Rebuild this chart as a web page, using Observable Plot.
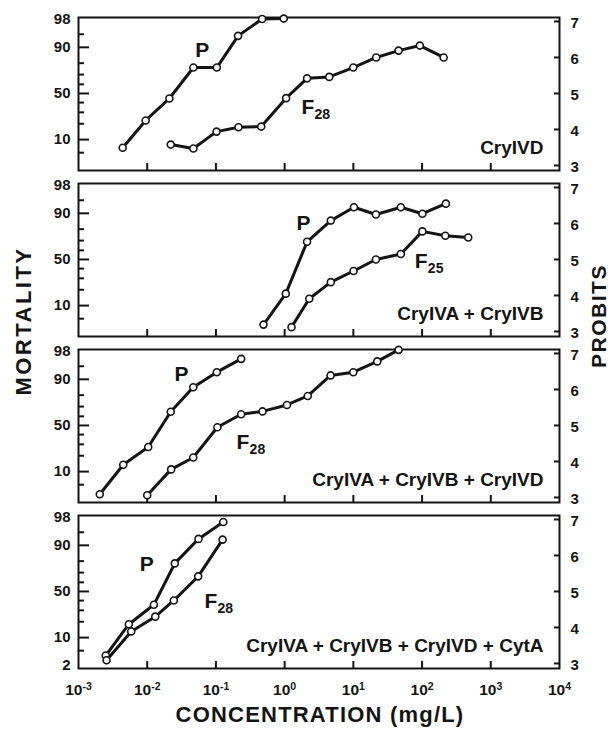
<!DOCTYPE html>
<html><head><meta charset="utf-8">
<script src="https://cdn.jsdelivr.net/npm/d3@7"></script>
<script src="https://cdn.jsdelivr.net/npm/@observablehq/plot@0.6"></script>
<style>
body{margin:0;background:#fff;}
#chart{position:relative;width:612px;height:730px;}
</style></head><body><div id="chart"></div>
<script>
// ---- data (concentration mg/L, response in probits) ----
const panelNames = ["CryIVD", "CryIVA + CryIVB", "CryIVA + CryIVB + CryIVD", "CryIVA + CryIVB + CryIVD + CytA"];

const p1P_conc = [0.0044, 0.0095, 0.021, 0.047, 0.103, 0.21, 0.47, 0.97];
const p1P_prob = [3.49, 4.25, 4.86, 5.72, 5.72, 6.60, 7.07, 7.08];
const p1F_conc = [0.022, 0.047, 0.102, 0.213, 0.456, 1.05, 2.12, 4.46, 9.98, 21.5, 45.5, 92.9, 206];
const p1F_prob = [3.58, 3.47, 3.94, 4.06, 4.08, 4.87, 5.42, 5.46, 5.72, 6.00, 6.19, 6.33, 6.00];

const p2P_conc = [0.493, 1.04, 2.12, 4.70, 10.2, 21.3, 49.1, 101, 222];
const p2P_prob = [3.19, 4.05, 5.49, 6.08, 6.45, 6.25, 6.45, 6.27, 6.55];
const p2F_conc = [1.26, 2.28, 4.70, 10.07, 21.3, 49.1, 101, 218, 470];
const p2F_prob = [3.12, 3.91, 4.37, 4.68, 5.00, 5.15, 5.78, 5.66, 5.61];

const p3P_conc = [0.00204, 0.00448, 0.01035, 0.0220, 0.0468, 0.103, 0.233];
const p3P_prob = [3.09, 3.91, 4.40, 5.38, 6.06, 6.48, 6.85];
const p3F_conc = [0.0100, 0.0223, 0.0468, 0.105, 0.233, 0.476, 1.08, 2.17, 4.66, 9.98, 22.3, 45.5];
const p3F_prob = [3.06, 3.78, 4.11, 4.95, 5.31, 5.39, 5.57, 5.82, 6.39, 6.48, 6.78, 7.10];

const p4P_conc = [0.00249, 0.0054, 0.0125, 0.0252, 0.0558, 0.128];
const p4P_prob = [3.22, 4.09, 4.63, 5.78, 6.46, 6.93];
const p4F_conc = [0.00256, 0.00585, 0.0131, 0.0244, 0.0552, 0.125];
const p4F_prob = [3.09, 3.89, 4.30, 4.75, 5.42, 6.44];

// series label annotations
const labelPanel = [1, 1, 2, 2, 3, 3, 4, 4];
const labelMain  = ["P", "F", "P", "F", "P", "F", "P", "F"];
const labelSub   = ["", "28", "", "25", "", "28", "", "28"];
const labelConc  = [0.050, 1.76, 1.49, 78.5, 0.0249, 0.20, 0.0078, 0.068];
const labelProb  = [6.02, 4.44, 5.83, 4.77, 6.23, 4.36, 5.56, 4.54];

// axis ticks
const mortalityMajor = [90, 50, 10];
const mortalityMinor = [95, 80, 70, 60, 40, 30, 20, 5];
const probitTicks = [3, 4, 5, 6, 7];
const xLabelTicks = [1e-3, 1e-2, 1e-1, 1e0, 1e1, 1e2, 1e3, 1e4];
const xInnerTicks = [1e-2, 1e-1, 1e0, 1e1, 1e2, 1e3];

// ---- helpers ----
function normInv(p) {
  const a = [-3.969683028665376e+01, 2.209460984245205e+02, -2.759285104469687e+02, 1.383577518672690e+02, -3.066479806614716e+01, 2.506628277459239e+00];
  const b = [-5.447609879822406e+01, 1.615858368580409e+02, -1.556989798598866e+02, 6.680131188771972e+01, -1.328068155288572e+01];
  const c = [-7.784894002430293e-03, -3.223964580411365e-01, -2.400758277161838e+00, -2.549732539343734e+00, 4.374664141464968e+00, 2.938163982698783e+00];
  const d = [7.784695709041462e-03, 3.224671290700398e-01, 2.445134137142996e+00, 3.754408661907416e+00];
  const pl = 0.02425, ph = 1 - pl;
  let q, r;
  if (p < pl) { q = Math.sqrt(-2 * Math.log(p)); return (((((c[0]*q+c[1])*q+c[2])*q+c[3])*q+c[4])*q+c[5]) / ((((d[0]*q+d[1])*q+d[2])*q+d[3])*q+1); }
  if (p <= ph) { q = p - 0.5; r = q*q; return (((((a[0]*r+a[1])*r+a[2])*r+a[3])*r+a[4])*r+a[5])*q / (((((b[0]*r+b[1])*r+b[2])*r+b[3])*r+b[4])*r+1); }
  q = Math.sqrt(-2 * Math.log(1 - p)); return -(((((c[0]*q+c[1])*q+c[2])*q+c[3])*q+c[4])*q+c[5]) / ((((d[0]*q+d[1])*q+d[2])*q+d[3])*q+1);
}
const probitOf = m => 5 + normInv(m / 100);

const series = [
  [1, "P", p1P_conc, p1P_prob], [1, "F", p1F_conc, p1F_prob],
  [2, "P", p2P_conc, p2P_prob], [2, "F", p2F_conc, p2F_prob],
  [3, "P", p3P_conc, p3P_prob], [3, "F", p3F_conc, p3F_prob],
  [4, "P", p4P_conc, p4P_prob], [4, "F", p4F_conc, p4F_prob]
];
const rows = series.flatMap(([panel, s, xs, ys]) => xs.map((x, i) => ({panel, series: panel + s, conc: x, probit: ys[i]})));
const panelRows = panelNames.map((name, i) => ({panel: i + 1, name}));
const labelRows = labelMain.map((t, i) => ({panel: labelPanel[i], main: t, sub: labelSub[i], conc: labelConc[i], probit: labelProb[i]}));
const edgeLabels = [1, 2, 3, 4].map(p => ({panel: p, text: "98", probit: probitOf(98)})).concat([{panel: 4, text: "2", probit: probitOf(2)}]);
const majorRows = mortalityMajor.map(m => ({m, probit: probitOf(m)}));
const minorRows = mortalityMinor.map(m => ({m, probit: probitOf(m)}));
const xLabelRows = xLabelTicks.map(v => ({panel: 4, v}));

const ink = "#141414";
const font = '"Liberation Sans", Arial, Helvetica, sans-serif';

// layout sizes
const W = 612, H = 730, mT = 16, mB = 62, mL = 78, mR = 53, padInner = 0.08;
const innerW = W - mL - mR;
const bandH = (H - mT - mB) * (1 - padInner) / (4 - padInner);

const chart = Plot.plot({
  width: W,
  height: H,
  marginTop: mT,
  marginBottom: mB,
  marginLeft: mL,
  marginRight: mR,
  style: {fontFamily: font, fontWeight: "bold", fontSize: "15px", color: ink, background: "white", overflow: "visible"},
  x: {type: "log", domain: [1e-3, 1e4], label: null, axis: null},
  y: {domain: [2.86, 7.11], label: null, axis: null},
  fy: {domain: [1, 2, 3, 4], axis: null, paddingInner: padInner, paddingOuter: 0, label: null},
  marks: [
    // inward tick marks
    Plot.tickY(majorRows, {y: "probit", insetRight: innerW - 11, stroke: ink, strokeWidth: 2}),
    Plot.tickY(minorRows, {y: "probit", insetRight: innerW - 6, stroke: ink, strokeWidth: 2}),
    Plot.tickY(probitTicks, {y: d => d, insetLeft: innerW - 5, stroke: ink, strokeWidth: 2}),
    Plot.tickX(xInnerTicks, {x: d => d, insetTop: bandH - 7, stroke: ink, strokeWidth: 2}),
    // tick labels
    Plot.text(majorRows, {y: "probit", text: d => String(d.m), frameAnchor: "left", textAnchor: "end", dx: -8, fontSize: 15, fill: ink}),
    Plot.text(edgeLabels, {y: "probit", fy: "panel", text: "text", frameAnchor: "left", textAnchor: "end", dx: -8, fontSize: 15, fill: ink}),
    Plot.text(probitTicks, {y: d => d, text: d => String(d), frameAnchor: "right", textAnchor: "start", dx: 11, dy: 2, fontSize: 15, fill: ink}),
    Plot.text(xLabelRows, {x: "v", fy: "panel", text: d => "10^" + Math.round(Math.log10(d.v)), frameAnchor: "bottom", lineAnchor: "top", dy: 15, fontSize: 15.5, fill: ink}),
    Plot.frame({stroke: ink, strokeWidth: 2}),
    Plot.line(rows, {x: "conc", y: "probit", z: "series", fy: "panel", stroke: ink, strokeWidth: 3, curve: "linear"}),
    Plot.dot(rows, {x: "conc", y: "probit", fy: "panel", r: 3.5, fill: "white", stroke: ink, strokeWidth: 1.6}),
    Plot.text(panelRows, {fy: "panel", text: "name", frameAnchor: "bottom-right", textAnchor: "end", lineAnchor: "bottom", dx: -16, dy: -17, fontSize: 19, fill: ink}),
    Plot.text(labelRows, {x: "conc", y: "probit", fy: "panel", text: "main", textAnchor: "start", lineAnchor: "bottom", fontSize: 21, fill: ink}),
    Plot.text(labelRows, {x: "conc", y: "probit", fy: "panel", text: "sub", textAnchor: "start", lineAnchor: "bottom", dx: 13, dy: 5, fontSize: 14, fill: ink})
  ]
});

// superscript exponents on the x tick labels
d3.select(chart).selectAll("text").each(function() {
  if (this.children.length) return;
  const t = d3.select(this);
  const s = t.text();
  if (!s.startsWith("10^")) return;
  const e = s.slice(3);
  t.text(null);
  t.append("tspan").text("10");
  t.append("tspan").attr("dy", "-0.45em").attr("font-size", "10.5px").text(e);
});

const svg = d3.select(chart);
svg.append("text").attr("x", 320).attr("y", 722).attr("text-anchor", "middle")
  .attr("font-size", 22).attr("letter-spacing", 1.2).attr("fill", ink).text("CONCENTRATION (mg/L)");
svg.append("text").attr("transform", "translate(31,321) rotate(-90)").attr("text-anchor", "middle")
  .attr("font-size", 22).attr("letter-spacing", 2.5).attr("fill", ink).text("MORTALITY");
svg.append("text").attr("transform", "translate(606,316) rotate(-90)").attr("text-anchor", "middle")
  .attr("font-size", 21).attr("letter-spacing", 1.5).attr("fill", ink).text("PROBITS");

document.getElementById("chart").appendChild(chart);
</script>
</body></html>
